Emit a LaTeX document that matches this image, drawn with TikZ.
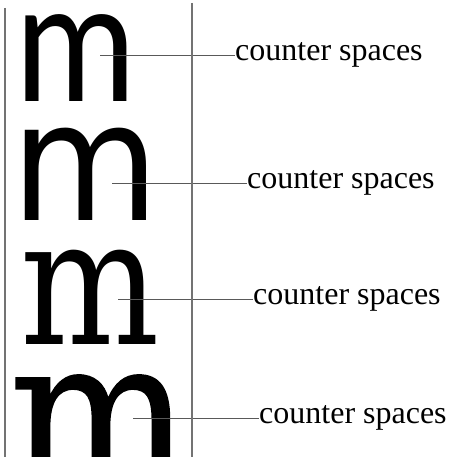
\documentclass[tikz,border=0pt]{standalone}
\usepackage{fontspec}
\setmainfont{Liberation Serif}
\newfontfamily\mlato{Lato}
\newfontfamily\mdvsans{DejaVu Sans}
\newfontfamily\mdvserif{DejaVu Serif}
\newfontfamily\mdvserifheavy[FakeBold=0.8]{DejaVu Serif}
\usetikzlibrary{positioning}

\begin{document}
\begin{tikzpicture}[x=1pt, y=-1pt,
  glyph/.style = {inner sep=0pt, anchor=base west},
  note/.style = {inner sep=0pt, anchor=west, font=\fontsize{32}{32}\selectfont},
  leader/.style = {draw=black!65, line width=0.9pt},
  guide/.style = {draw=black!55, line width=1.2pt}]

    \useasboundingbox (0,0) rectangle (456,457);

    % the four m's
    \node[glyph] (m1) at (15,102) {\scalebox{0.87}[1]{\fontsize{169}{169}\mlato m}};
    \node[glyph] (m2) at (11,220) {\scalebox{0.92}[1]{\fontsize{165}{165}\mdvsans m}};
    \node[glyph] (m3) at (20,344) {\scalebox{0.83}[1]{\fontsize{177}{177}\mdvserif m}};
    \node[glyph] (m4) at (9,488) {\scalebox{0.9}[1]{\fontsize{212}{212}\mdvserifheavy m}};

    % where the leaders start
    \coordinate (c1) at (100,55);
    \coordinate (c2) at (112,183);
    \coordinate (c3) at (118,299);
    \coordinate (c4) at (133,418);

    \node[note] (t1) at (235,55) {counter spaces};
    \node[note] (t2) at (247,183) {counter spaces};
    \node[note] (t3) at (253,299) {counter spaces};
    \node[note] (t4) at (259,418) {counter spaces};

    \draw [leader] (c1) -- (t1.west);
    \draw [leader] (c2) -- (t2.west);
    \draw [leader] (c3) -- (t3.west);
    \draw [leader] (c4) -- (t4.west);

    % the two rules
    \coordinate (l1) at (5,8);
    \coordinate (l2) at (5,457);
    \coordinate (r1) at (192,3);
    \coordinate (r2) at (192,457);
    \draw [guide] (l1) -- (l2);
    \draw [guide] (r1) -- (r2);

\end{tikzpicture}
\end{document}
